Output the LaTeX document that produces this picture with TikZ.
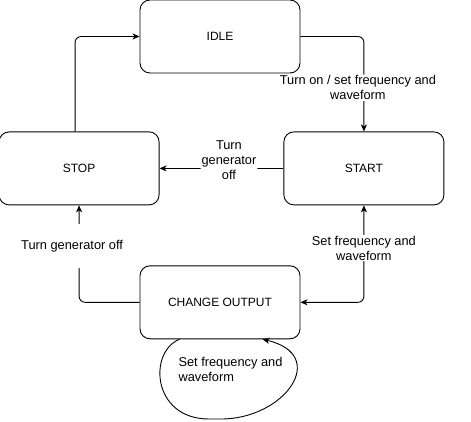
\documentclass[tikz,border=0pt]{standalone}
\usepackage{fontspec}
\setmainfont{Liberation Sans}
\usetikzlibrary{arrows.meta,positioning}

\tikzset{
  state/.style={draw, rounded corners=10pt, minimum width=160pt, minimum height=73pt, line width=0.9pt},
  lbl/.style={fill=white, align=center, inner sep=1pt, font=\fontsize{12.8}{15}\selectfont},
  link/.style={line width=0.9pt, rounded corners=6pt, ->}
}

\begin{document}
\begin{tikzpicture}[x=1pt, y=1pt, font=\fontsize{12}{14.5}\selectfont, >={Stealth[length=7pt,width=6pt,inset=2pt]}]
    \useasboundingbox (0,0) rectangle (471,421);
    \node (idle) [state] at (220,384.5) {IDLE};
    \node (stop) [state, below left=58pt and -20pt of idle] {STOP};
    \node (start) [state, below right=58pt and -17pt of idle] {START};
    \node (change) [state, below right=60pt and -20pt of stop] {CHANGE OUTPUT};

    \draw[link] ([xshift=-4pt]stop.north) |- (idle.west);
    \draw[link] (idle.east) -| node[lbl, pos=0.77, xshift=-6pt] {Turn on / set frequency and\\waveform} (start.north);
    \draw[link] (start.west) -- node[lbl, pos=0.44, yshift=8pt] {Turn\\generator\\off} (stop.east);
    \draw[link, <->] (start.south) |- node[lbl, pos=0.22] {Set frequency and\\waveform} (change.east);
    \draw[link] (change.west) -| node[lbl, pos=0.79, xshift=-7pt, inner ysep=16pt] {Turn generator off} (stop.south);

    % self loop under change output
    \coordinate (loopa) at ([xshift=-40.5pt]change.south);
    \coordinate (loopb) at ([xshift=42.5pt]change.south);
    \draw[link] (loopa) .. controls (148,69) and (152,2) .. (215,2) .. controls (285,2) and (330,66) .. (loopb);
    \node (looplbl) [align=left, anchor=west, font=\fontsize{12.8}{15}\selectfont] at (175,51.5) {Set frequency and\\waveform};
\end{tikzpicture}
\end{document}
